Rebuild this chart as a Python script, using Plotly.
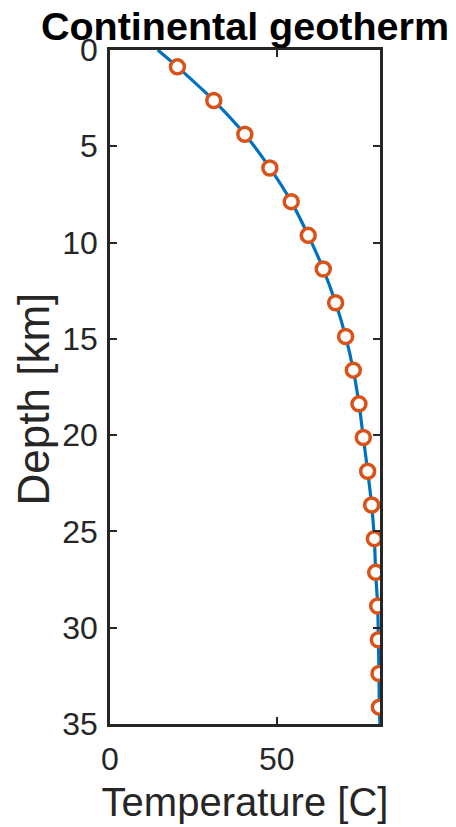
import plotly.graph_objects as go

# Marker samples (depth in km, temperature in C)
depth_pts = [0.875, 2.625, 4.375, 6.125, 7.875, 9.625, 11.375, 13.125, 14.875, 16.625,
             18.375, 20.125, 21.875, 23.625, 25.375, 27.125, 28.875, 30.625, 32.375, 34.125]
temp_pts = [20.2, 31.1, 40.4, 47.9, 54.3, 59.4, 63.9, 67.6, 70.6, 72.9,
            74.6, 75.9, 77.2, 78.4, 79.2, 79.6, 80.2, 80.4, 80.6, 80.7]

# Continuous geotherm curve
depth_line = [0.0, 0.875, 2.625, 4.375, 6.125, 7.875, 9.625, 11.375, 13.125, 14.875, 16.625,
              18.375, 20.125, 21.875, 23.625, 25.375, 27.125, 28.875, 30.625, 32.375, 34.125, 35.0]
temp_line = [14.3, 20.2, 31.1, 40.4, 47.9, 54.3, 59.4, 63.9, 67.6, 70.6, 72.9,
             74.6, 75.9, 77.2, 78.4, 79.2, 79.6, 80.2, 80.4, 80.6, 80.7, 80.9]

x_ticks = [0, 50]
y_ticks = [0, 5, 10, 15, 20, 25, 30, 35]

FONT = "Liberation Sans, Arial, Helvetica, sans-serif"
AX = "#262626"

fig = go.Figure()
fig.add_trace(go.Scatter(
    x=temp_line, y=depth_line, mode="lines",
    line=dict(color="#0072BD", width=3.2, shape="spline"),
    showlegend=False, hoverinfo="skip",
))
fig.add_trace(go.Scatter(
    x=temp_pts, y=depth_pts, mode="markers",
    marker=dict(symbol="circle", size=14, color="white",
                line=dict(color="#D95319", width=3.5)),
    showlegend=False,
))

axis_common = dict(
    showgrid=False, zeroline=False, showline=True, linecolor=AX, linewidth=2.5,
    mirror="ticks", ticks="inside", ticklen=7, tickwidth=2, tickcolor=AX,
    tickfont=dict(family=FONT, size=32, color=AX), automargin=False,
)

# the page adds an 8px body margin, so the figure is 8px smaller than the window
fig.update_layout(
    width=448, height=819,
    margin=dict(l=102, r=76, t=42, b=103),
    paper_bgcolor="white", plot_bgcolor="white",
    title=dict(text="<b>Continental geotherm</b>", x=0.5, xref="paper", xanchor="center",
               y=1, yref="paper", yanchor="bottom", pad=dict(b=10),
               font=dict(family=FONT, size=39.5, color="black")),
    xaxis=dict(range=[0, 80.9], tickvals=x_ticks, ticktext=[str(v) for v in x_ticks],
               ticklabelstandoff=5,
               title=dict(text="Temperature [C]", standoff=12,
                          font=dict(family=FONT, size=40, color=AX)),
               **axis_common),
    yaxis=dict(range=[35, 0], tickvals=y_ticks, ticktext=[str(v) for v in y_ticks],
               ticklabelstandoff=3, **axis_common),
    annotations=[dict(text="Depth [km]", textangle=-90, showarrow=False,
                      xref="paper", yref="paper", x=-0.284, y=0.482,
                      xanchor="center", yanchor="middle",
                      font=dict(family=FONT, size=44, color=AX))],
)

fig.write_html("out.html")
